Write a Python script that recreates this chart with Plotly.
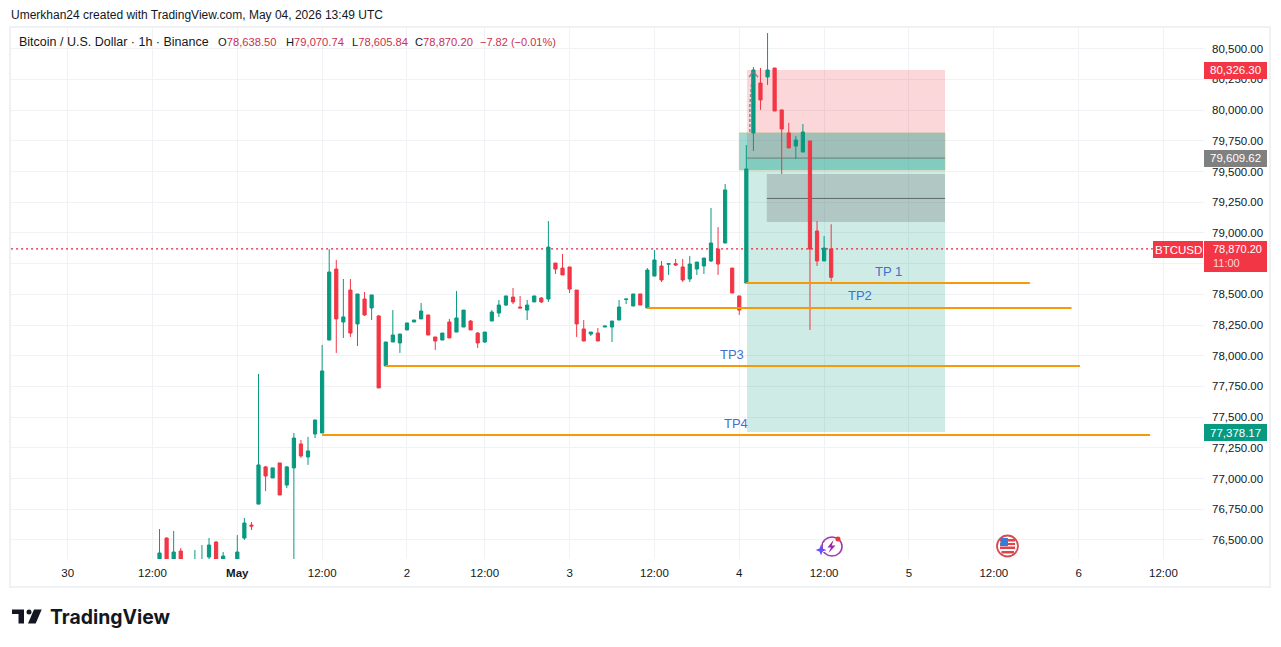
import plotly.graph_objects as go

# ---------- data (1h BTCUSD bars) ----------
bar_index = list(range(-11, 85))
opens = [76296,76516,76296,76410,76256,76239,76256,76361,76483,76313,76288,76313,76516,76621,76792,77095,77005,77127,76947,77087,77282,77176,77363,77371,
         78128,78706,78275,78535,78259,78462,78389,78324,77917,78112,78104,78210,78275,78300,78332,78153,78128,78275,78193,78234,78283,78185,78112,78283,
         78348,78413,78478,78397,78372,78438,78470,78462,78755,78714,78723,78535,78218,78177,78185,78234,78234,78291,78458,78405,78503,78389,78649,78731,
         78745,78750,78723,78625,78706,78731,78772,78869,78918,78714,78487,78592,79814,80221,80270,80343,80002,79814,79708,79659,79749,79016,78772,78870.20]
highs = [76589,76520,76573,76434,76321,76418,76459,76516,76492,76402,76329,76540,76679,76646,77852,77103,77087,77127,77103,77371,77314,77339,77477,78088,
         78869,78780,78625,78625,78503,78519,78495,78332,78112,78372,78177,78267,78291,78430,78332,78153,78185,78300,78527,78372,78291,78193,78193,78372,
         78454,78487,78552,78487,78454,78487,78478,79097,78755,78829,78723,78535,78291,78193,78226,78242,78283,78454,78462,78503,78503,78714,78861,78772,
         78750,78788,78788,78812,78763,78796,79203,79048,79399,78714,78487,79716,80351,80343,80628,80343,80002,79896,79790,79887,79749,79097,78975,79070.74]
lows = [76272,76272,76272,76256,76231,76215,76223,76345,76256,76288,76239,76288,76500,76581,76792,76898,77005,76866,76923,76215,77168,77111,77330,77371,
        78128,78023,78145,78153,78080,78324,78291,77738,77917,78112,78023,78210,78275,78300,78169,78047,78128,78145,78193,78234,78210,78063,78104,78283,
        78316,78405,78421,78389,78291,78438,78430,78438,78666,78658,78511,78153,78120,78161,78120,78234,78112,78291,78421,78405,78413,78389,78649,78601,
        78658,78731,78601,78601,78658,78666,78763,78658,78918,78511,78332,78592,79668,80002,80205,79993,79480,79692,79602,79659,78210,78731,78772,78605.84]
closes = [76394,76288,76402,76288,76288,76321,76321,76459,76288,76369,76256,76402,76638,76613,77111,77021,77087,76866,77095,77330,77184,77225,77477,77876,
          78682,78300,78316,78185,78503,78332,78495,77738,78112,78169,78177,78267,78291,78364,78169,78120,78185,78145,78308,78372,78210,78104,78193,78356,
          78413,78487,78438,78389,78413,78487,78438,78885,78706,78658,78543,78259,78120,78193,78120,78242,78283,78397,78462,78503,78413,78698,78780,78617,
          78750,78739,78617,78747,78763,78796,78918,78747,79350,78511,78372,79521,80327,80083,80327,79993,79847,79692,79757,79822,78869,78772,78877,78638.50]

x_tick_vals = [-24,-12,0,12,24,35,47,59,71,83,95,107,119,131]
x_tick_text = ["30","12:00","<b>May</b>","12:00","2","12:00","3","12:00","4","12:00","5","12:00","6","12:00"]
y_tick_vals = [76500,76750,77000,77250,77500,77750,78000,78250,78500,78750,79000,79250,79500,79750,80000,80250,80500]
y_tick_hidden = [78750]  # fully covered by the last-price tag in the reference

tp_names = ["TP 1","TP2","TP3","TP4"]
tp_levels = [78592,78389,77917,77355]
tp_starts = [72,58,21,12]
tp_ends = [112.1,118,119.2,129.1]
tp_text_x = [92.1,88.1,70.0,70.6]
tp_text_y = [78690,78487,78014,77452]

stop_price, entry_price, target_price, last_price = 80326.30, 79609.62, 77378.17, 78870.20
pos_x = (72.1, 100.1)
zone_x, zone_y = (71.0, 100.1), (79815, 79512)
gray_x, gray_y = (74.9, 100.1), (79480, 79090)
gray_mid = 79281

arc_x, arc_y = [72.5,72.5,72.8], [79822,80042,80262]
caret_x, caret_y = [72.4,72.95,73.65], [80270,80311,80270]

# ---------- geometry ----------
W, H = 1281, 647
L, R, T, B = 11, 1204, 27, 559
FONT = "Liberation Sans"
UP, DOWN = "#089981", "#f23645"
GRID = "#f1f2f5"
px = lambda v: (v - L) / (R - L)
py = lambda v: (B - v) / (B - T)

fig = go.Figure()
fig.add_trace(go.Candlestick(
    x=bar_index, open=opens, high=highs, low=lows, close=closes,
    increasing=dict(line=dict(color=UP, width=1), fillcolor=UP),
    decreasing=dict(line=dict(color=DOWN, width=1), fillcolor=DOWN),
    whiskerwidth=0, hoverinfo="skip"))
fig.add_trace(go.Scatter(x=arc_x, y=arc_y, mode="lines", hoverinfo="skip",
                         line=dict(color="rgba(120,123,134,0.85)", width=1.5, dash="3px,2px")))
fig.add_trace(go.Scatter(x=caret_x, y=caret_y, mode="lines", hoverinfo="skip",
                         line=dict(color="rgba(120,123,134,0.85)", width=1.5)))

shapes = []
def rect(x, y, fill, line="rgba(0,0,0,0)", layer="between", lw=1):
    shapes.append(dict(type="rect", xref="x", yref="y", x0=x[0], x1=x[1], y0=y[0], y1=y[1],
                       fillcolor=fill, line=dict(color=line, width=lw), layer=layer))
def hline(x0, x1, y, color, width=1, dash="solid", layer="between"):
    shapes.append(dict(type="line", xref="x", yref="y", x0=x0, x1=x1, y0=y, y1=y,
                       line=dict(color=color, width=width, dash=dash), layer=layer))
def prect(x0, y0, x1, y1, fill, line="rgba(0,0,0,0)", kind="rect", lw=1):
    shapes.append(dict(type=kind, xref="paper", yref="paper", x0=px(x0), x1=px(x1), y0=py(y0), y1=py(y1),
                       fillcolor=fill, line=dict(color=line, width=lw), layer="above"))
def ppath(pts, fill="rgba(0,0,0,0)", line="rgba(0,0,0,0)", lw=1, close=True):
    d = "M " + " L ".join(f"{px(a):.5f},{py(b):.5f}" for a, b in pts) + (" Z" if close else "")
    shapes.append(dict(type="path", xref="paper", yref="paper", path=d, fillcolor=fill,
                       line=dict(color=line, width=lw), layer="above"))

# position tool
rect(pos_x, (entry_price, stop_price), "rgba(242,54,69,0.2)")
rect(pos_x, (target_price, entry_price), "rgba(8,153,129,0.2)")
rect(zone_x, zone_y, "rgba(8,153,129,0.38)", line="rgba(205,190,120,0.45)")
rect(gray_x, gray_y, "rgba(110,115,120,0.3)")
hline(pos_x[0], pos_x[1], entry_price, "#6b7f79")
hline(gray_x[0], gray_x[1], gray_mid, "#5f6b68")
hline(bar_index[0] - 21, 129.5, last_price, "#e8203a", 1.3, "2px,3px")
for s, e, lv in zip(tp_starts, tp_ends, tp_levels):
    hline(s, e, lv, "#f59a0a", 2, layer="above")

# outer frame
prect(10, 27, 1270, 587, "rgba(0,0,0,0)", line="#f0f1f4", lw=2)

anns = []
def text(x, y, s, size=12, color="#131722", anchor="left", font=FONT, align="left"):
    anns.append(dict(xref="paper", yref="paper", x=px(x), y=py(y), text=s, showarrow=False,
                     xanchor=anchor, yanchor="middle", align=align,
                     font=dict(family=font, size=size, color=color), borderpad=0))
def tag(x0, y0, x1, y1, s, bg, size=11.5):
    prect(x0, y0, x1, y1, bg)
    text((x0 + x1) / 2, (y0 + y1) / 2, s, size, "#ffffff", "center")

text(10, 15, "Umerkhan24 created with TradingView.com, May 04, 2026 13:49 UTC", 12)
RED_TXT = "#cc2f4f"
text(18, 42, "Bitcoin / U.S. Dollar · 1h · Binance", 12.5)
for xp, lab, val in [(217, "O", "78,638.50"), (285, "H", "79,070.74"), (351, "L", "78,605.84"), (414, "C", "78,870.20")]:
    text(xp, 42, f'{lab}<span style="color:{RED_TXT}">{val}</span>', 11.2)
text(479, 42, "−7.82 (−0.01%)", 11, RED_TXT)

for name, xv, yv in zip(tp_names, tp_text_x, tp_text_y):
    anns.append(dict(xref="x", yref="y", x=xv, y=yv, text=name, showarrow=False,
                     font=dict(family=FONT, size=13, color="#3f6fd0")))

tag(1204, 62, 1267, 79, "80,326.30", DOWN)
tag(1204, 150, 1267, 167, "79,609.62", "#808080")
tag(1204, 424, 1267, 441, "77,378.17", UP)
tag(1153, 241, 1203, 258, "BTCUSD", DOWN)
prect(1204, 241, 1267, 272, DOWN)
text(1212, 256, '78,870.20<br><span style="color:#ffd9dc">11:00</span>', 11, "#ffffff")

# earnings icon
prect(822, 537, 842, 556, "rgba(0,0,0,0)", line="#9c3bb0", kind="circle", lw=1.6)
prect(823, 543, 829, 552, "#ffffff")
ppath([(833.5,540),(827.5,547.5),(831,547.5),(828.5,553),(835.5,545.5),(831.8,545.5)], fill="#9c27b0")
ppath([(821,544.5),(822.5,548.5),(826.5,550),(822.5,551.5),(821,555.5),(819.5,551.5),(815.5,550),(819.5,548.5)], fill="#6a4dff")
prect(835.5, 536.5, 840.5, 541.5, "#e53935", kind="circle")

# US flag icon
prect(997, 535.5, 1018, 556.5, "#ffffff", line="#d84a4f", kind="circle", lw=1.8)
prect(1000, 546.5, 1015, 549, "#e0454c")
prect(1001.5, 551, 1014, 553.5, "#e0454c")
prect(1000, 539, 1015, 541.5, "#e0454c")
prect(1000, 543, 1015, 545, "#e0454c")
ppath([(1001,538),(1008,538),(1008,546),(1000,546)], fill="#3a7bd5")

# TradingView logo
ppath([(12,609.5),(24,609.5),(24,623.5),(18.5,623.5),(18.5,614),(12,614)], fill="#131722")
prect(26.5, 609.5, 31.5, 614.5, "#131722", kind="circle")
ppath([(34,609.5),(41.7,609.5),(35.7,623.5),(28,623.5)], fill="#131722")
text(48.5, 617, "<b>TradingView</b>", 19.4, "#131722", font="Inter")

fig.update_layout(
    width=W, height=H, margin=dict(l=L, r=W - R, t=T, b=H - B, autoexpand=False),
    paper_bgcolor="#ffffff", plot_bgcolor="#ffffff", showlegend=False, boxgap=0.35,
    shapes=shapes, annotations=anns, hovermode=False, font=dict(family=FONT, size=12, color="#131722"),
    xaxis=dict(range=[(L - 237.3) / 7.07, (R - 237.3) / 7.07], rangeslider=dict(visible=False),
               tickmode="array", tickvals=x_tick_vals, ticktext=x_tick_text, ticks="", ticklabelstandoff=5,
               showgrid=True, gridcolor=GRID, zeroline=False, showline=False, tickfont=dict(size=11.5)),
    yaxis=dict(range=[76345, 80677], side="right", tickmode="array", tickvals=y_tick_vals,
               ticktext=["" if v in y_tick_hidden else f"{v:,.2f}" for v in y_tick_vals], ticks="", ticklabelstandoff=7,
               showgrid=True, gridcolor=GRID, zeroline=False, showline=False, tickfont=dict(size=11.5)),
)
fig.write_html("out.html", config=dict(displayModeBar=False),
               post_script="document.body.style.margin='0';document.body.style.overflow='hidden';")
